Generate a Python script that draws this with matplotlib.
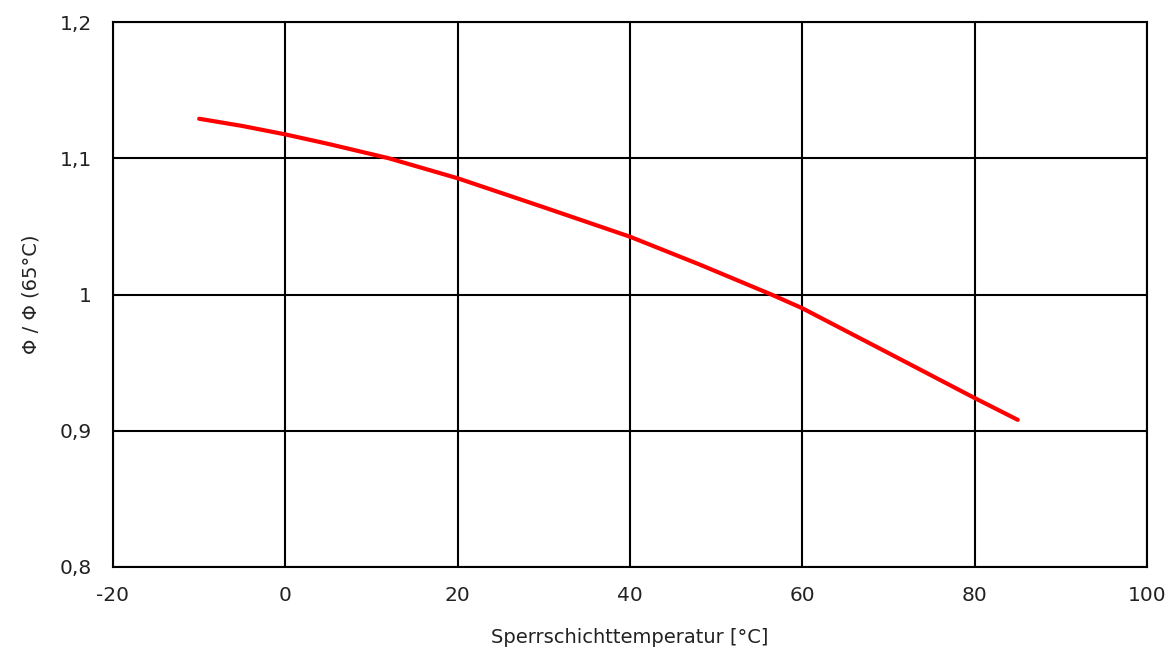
# -*- coding: utf-8 -*-
import numpy as np
import matplotlib
matplotlib.use("Agg")
import matplotlib.pyplot as plt

# curve
temp = [-10, -5, 0, 5, 10, 12, 20, 30, 40, 48, 56.4, 60, 70, 80, 85]
flux = [1.129, 1.1237, 1.1175, 1.1105, 1.103, 1.100, 1.0853, 1.064, 1.0424,
        1.0222, 1.000, 0.9899, 0.957, 0.924, 0.908]

x_ticks = [-20, 0, 20, 40, 60, 80, 100]
y_ticks = [0.8, 0.9, 1.0, 1.1, 1.2]
y_labels = ["0,8", "0,9", "1", "1,1", "1,2"]

def main():
    plt.rcParams['font.family'] = ['DejaVu Sans']
    fig = plt.figure(figsize=(11.74, 6.52), dpi=100)
    ax = fig.add_axes([113/1174, 85/652, 1034/1174, 545/652])

    ax.plot(temp, flux, color="#ff0000", linewidth=3, solid_capstyle="round")

    ax.set_xlim(-20, 100)
    ax.set_ylim(0.8, 1.2)
    ax.set_xticks(x_ticks)
    ax.set_xticklabels([str(t) for t in x_ticks])
    ax.set_yticks(y_ticks)
    ax.set_yticklabels(y_labels)
    ax.tick_params(length=0, labelsize=14.5, colors="#222222")
    ax.tick_params(axis="x", pad=14)
    ax.tick_params(axis="y", pad=15)
    ax.grid(True, color="black", linewidth=1.5)
    ax.set_axisbelow(True)
    for s in ax.spines.values():
        s.set_linewidth(1.5)

    ax.set_xlabel("Sperrschichttemperatur [°C]", fontsize=14, labelpad=16, color="#222222")
    ax.set_ylabel("Φ / Φ (65°C)", fontsize=14, labelpad=14, color="#222222")

    fig.savefig("out.png", dpi=100)

if __name__ == '__main__':
    main()
